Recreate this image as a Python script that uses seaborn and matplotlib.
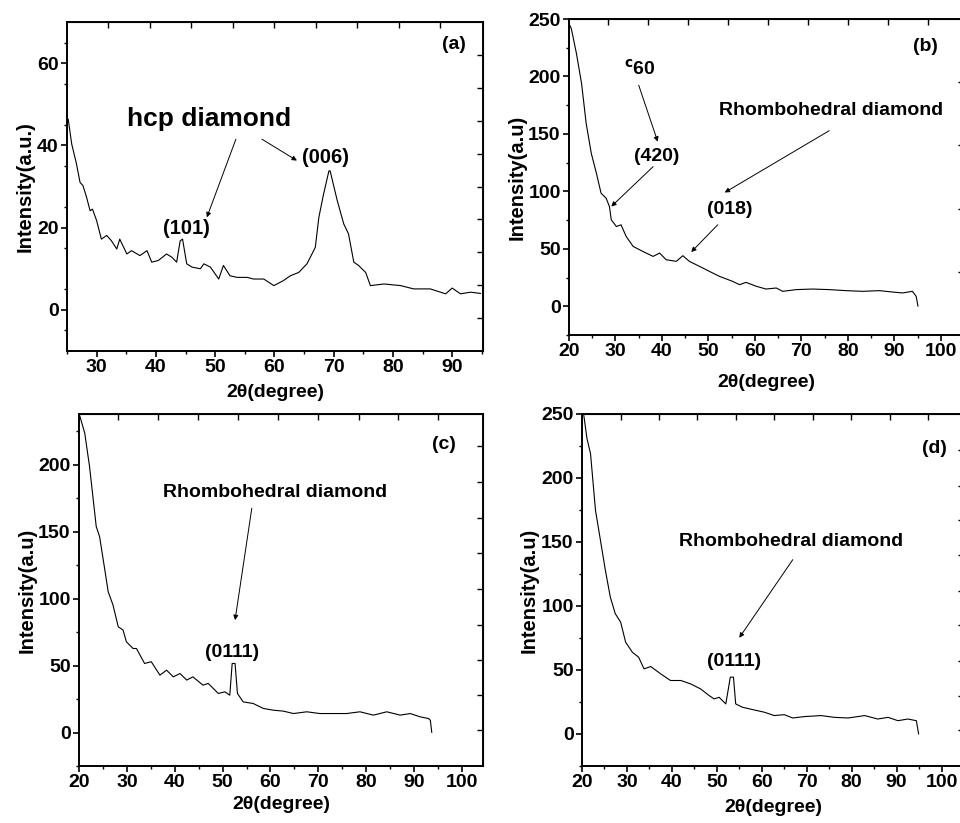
import numpy as np
import pandas as pd
import matplotlib
matplotlib.use('Agg')
import matplotlib.pyplot as plt
import seaborn as sns

sns.set_style('ticks')
plt.rcParams['font.family'] = ['Liberation Sans', 'DejaVu Sans']
plt.rcParams['font.weight'] = 'bold'
plt.rcParams['axes.labelweight'] = 'bold'
plt.rcParams['mathtext.default'] = 'bf'
for key in ['text.color', 'axes.labelcolor', 'xtick.color', 'ytick.color', 'axes.edgecolor']:
    plt.rcParams[key] = 'black'

# panel (a) XRD pattern
two_theta_a = [25.2, 25.8, 26.6, 27.2, 27.7, 28.3, 28.9, 29.3, 30.0, 30.8, 31.7, 32.5, 33.4, 33.9,
               35.1, 35.9, 37.3, 38.5, 39.3, 40.4, 41.8, 42.7, 43.5, 44.1, 44.5, 45.2, 46.1, 47.5,
               48.1, 49.2, 50.6, 51.4, 52.5, 53.7, 55.4, 56.5, 58.2, 59.9, 61.5, 62.7, 64.1, 65.5,
               66.9, 67.5, 68.3, 69.2, 69.4, 70.6, 71.7, 72.5, 73.4, 74.2, 75.4, 76.2, 78.5, 81.3,
               83.5, 86.3, 88.9, 90.0, 91.4, 93.1, 94.8]
intensity_a = [46.4, 40.3, 35.5, 31.0, 30.2, 27.4, 24.1, 24.5, 21.7, 17.2, 18.1, 16.8, 14.8, 17.2,
               13.6, 14.4, 13.2, 14.4, 11.6, 12.0, 13.6, 12.8, 11.6, 16.8, 17.2, 11.2, 10.4, 10.0,
               11.2, 10.4, 7.5, 10.8, 8.3, 7.9, 7.9, 7.5, 7.5, 5.9, 7.1, 8.3, 9.1, 11.2,
               15.2, 22.5, 28.2, 33.8, 33.8, 26.6, 20.9, 18.5, 11.6, 10.8, 9.1, 5.9, 6.3, 5.9,
               5.1, 5.1, 3.9, 5.3, 3.9, 4.3, 4.0]

# panel (b)
two_theta_b = [20.0, 20.5, 21.6, 22.7, 23.7, 24.8, 25.9, 26.9, 28.0, 28.7, 29.1, 30.2, 31.2, 32.3,
               33.8, 35.9, 38.1, 39.5, 40.9, 43.1, 44.5, 45.9, 48.1, 50.2, 52.4, 55.2, 56.7, 58.1,
               60.3, 62.4, 64.6, 66.0, 68.9, 72.4, 76.0, 79.6, 83.2, 86.8, 89.6, 91.8, 93.9, 94.7, 95.1]
intensity_b = [246, 241.6, 220, 194, 159, 133, 115.7, 98.4, 94, 86.8, 75.2, 69.4, 70.9, 60.8,
               52.1, 47.7, 43.4, 46.3, 40.5, 39.1, 44, 39.1, 34.7, 30.4, 26, 21.7, 18.8, 20.8,
               17.4, 15, 15.9, 13, 14.5, 15, 14.5, 13.6, 13, 13.6, 12.4, 11.6, 13, 8.7, 0]

# panel (c)
two_theta_c = [20.1, 21.2, 22.2, 23.6, 24.3, 25.4, 26.1, 27.1, 28.2, 29.2, 29.9, 31.3, 32.0, 33.7,
               35.1, 36.9, 38.3, 39.7, 41.1, 42.5, 43.8, 45.9, 47.0, 49.1, 50.5, 51.5, 52.0, 52.6,
               53.1, 54.3, 56.4, 58.5, 60.6, 62.7, 64.8, 67.6, 70.3, 73.1, 75.9, 78.7, 81.5, 84.3,
               87.1, 89.2, 91.3, 93.0, 93.4, 93.7]
intensity_c = [237.4, 223.7, 198.8, 153.9, 146.4, 121.4, 105.2, 95.3, 79, 76.6, 67.8, 62.8, 62.8, 51.6,
               52.9, 42.9, 46.6, 41.6, 44.1, 39.2, 41.6, 35.4, 36.7, 29.2, 30.4, 27.9, 51.6, 51.6,
               29.2, 22.9, 21.7, 18, 16.7, 16, 14.2, 15.5, 14.2, 14.2, 14.2, 15.5, 13, 15.5,
               13, 14.2, 11.7, 10.5, 9.2, 0]

# panel (d)
two_theta_d = [20.4, 21.1, 21.9, 23.0, 24.1, 25.2, 26.3, 27.4, 28.6, 29.7, 31.2, 32.6, 33.8, 35.3,
               37.5, 39.7, 42.0, 44.2, 46.4, 48.3, 49.4, 50.5, 52.0, 53.0, 53.7, 54.2, 55.7, 58.3,
               60.6, 62.8, 65.0, 66.9, 69.5, 73.2, 76.2, 79.2, 82.9, 85.8, 88.1, 90.3, 92.5, 94.4, 94.9]
intensity_d = [249, 231, 219, 174.8, 151.4, 127.9, 107, 94, 87.4, 71.8, 63.9, 60, 50.9, 52.7,
               47, 41.8, 41.8, 39.1, 35.2, 30, 27.4, 28.7, 23.5, 44.4, 44.4, 23.5, 20.9, 18.8,
               17, 14.4, 15.1, 12.5, 13.6, 14.4, 13, 12.5, 14.4, 11.7, 13, 10.4, 11.7, 10.4, 0]

W, H = 960, 823
fig = plt.figure(figsize=(W / 100, H / 100), dpi=100)

def add_panel(left, right, top, bottom):
    return fig.add_axes([left / W, 1 - bottom / H, (right - left) / W, (bottom - top) / H])

panels = [
    dict(rect=(67, 483, 22, 351), x=two_theta_a, y=intensity_a, xlim=(25, 95.2), ylim=(-10, 70),
         xt=10, yt=20, ylabel='Intensity(a.u.)', xpad=6, ypad=2,
         top=[32, 39, 46, 53, 60, 67, 74, 81, 88], right=[62, 54, 46, 38, 30, 22, 14, 6, -2]),
    dict(rect=(569, 964, 19, 335), x=two_theta_b, y=intensity_b, xlim=(20, 105), ylim=(-25, 250),
         xt=10, yt=50, ylabel='Intensity(a.u)', xpad=10, ypad=1,
         top=[28.4, 37, 45.6, 54.2, 62.8, 71.4, 80, 88.6, 97.2], right=[195, 140, 85, 30]),
    dict(rect=(79, 483, 414, 766), x=two_theta_c, y=intensity_c, xlim=(20, 104.4), ylim=(-25, 238),
         xt=10, yt=50, ylabel='Intensity(a.u)', xpad=4, ypad=1,
         top=[28.2, 36.5, 44.9, 53.3, 61.6, 70, 78.4, 86.7, 95.1],
         right=[214, 187, 160, 134, 107, 80, 54, 28, 2]),
    dict(rect=(582, 964, 414, 766), x=two_theta_d, y=intensity_d, xlim=(20, 105), ylim=(-25, 250),
         xt=10, yt=50, ylabel='Intensity(a.u)', xpad=6, ypad=2,
         top=[28.6, 37.1, 45.7, 54.2, 62.8, 71.4, 79.9, 88.5, 97],
         right=[222, 194, 167, 140, 112, 85, 57, 30, 3]),
]

axes = []
for p in panels:
    ax = add_panel(*p['rect'])
    df = pd.DataFrame({'2theta': p['x'], 'I': p['y']})
    sns.lineplot(data=df, x='2theta', y='I', ax=ax, color='black', lw=0.8, sort=False)
    ax.set_xticks(np.arange(20, 101, p['xt']))
    ax.set_xticks(np.arange(20, 106, p['xt'] / 2), minor=True)
    ax.set_yticks(np.arange(0, 251, p['yt']))
    ax.set_yticks(np.arange(-25, 251, p['yt'] / 2), minor=True)
    ax.set_xlim(*p['xlim'])
    ax.set_ylim(*p['ylim'])
    ax.tick_params(which='major', direction='out', length=4, width=1.2, labelsize=14)
    ax.tick_params(axis='x', which='major', pad=1.5)
    ax.tick_params(axis='y', which='major', pad=2)
    ax.tick_params(which='minor', direction='out', length=2.5, width=1)
    for lab in ax.get_xticklabels() + ax.get_yticklabels():
        lab.set_fontweight('bold')
    for s in ax.spines.values():
        s.set_linewidth(1.4)
    ax.set_xlabel('2θ(degree)', fontsize=14, fontweight='bold', labelpad=p['xpad'])
    ax.set_ylabel(p['ylabel'], fontsize=14.5, fontweight='bold', labelpad=p['ypad'])
    sx = ax.secondary_xaxis('top')
    sx.set_xticks(p['top'])
    sx.tick_params(direction='in', length=4, width=1, labeltop=False)
    sx.set_xticklabels([])
    sy = ax.secondary_yaxis('right')
    sy.set_yticks(p['right'])
    sy.tick_params(direction='in', length=4, width=1, labelright=False)
    sy.set_yticklabels([])
    axes.append(ax)

arrow = dict(arrowstyle='-|>', lw=0.7, color='black', mutation_scale=7, shrinkA=0, shrinkB=0)
txt = dict(ha='center', va='center', fontweight='bold')

ax = axes[0]
ax.text(48.9, 46.4, 'hcp diamond', fontsize=19, **txt)
ax.annotate('', xy=(48.6, 22.5), xytext=(53.5, 41.5), arrowprops=arrow)
ax.annotate('', xy=(63.8, 36.3), xytext=(57.9, 41.5), arrowprops=arrow)
ax.text(45.1, 19.7, '(101)', fontsize=14.5, **txt)
ax.text(68.7, 37.1, '(006)', fontsize=14.5, **txt)
ax.text(90.3, 64.6, '(a)', fontsize=14, **txt)

ax = axes[1]
ax.text(35.2, 206.9, r'$^{\mathbf{c}}$60', fontsize=14, **txt)
ax.annotate('', xy=(39.1, 143.2), xytext=(35.0, 192.4), arrowprops=arrow)
ax.text(38.8, 130.2, '(420)', fontsize=14, **txt)
ax.annotate('', xy=(29.1, 86.8), xytext=(38.1, 121.5), arrowprops=arrow)
ax.text(76.4, 170.7, 'Rhombohedral diamond', fontsize=14, **txt)
ax.annotate('', xy=(53.5, 99), xytext=(76.0, 152.8), arrowprops=arrow)
ax.text(54.5, 84.5, '(018)', fontsize=14, **txt)
ax.annotate('', xy=(46.3, 47.2), xytext=(52.0, 70.9), arrowprops=arrow)
ax.text(96.8, 225.7, '(b)', fontsize=14, **txt)

ax = axes[2]
ax.text(60.9, 179.3, 'Rhombohedral diamond', fontsize=14, **txt)
ax.annotate('', xy=(52.6, 84), xytext=(56.1, 167.6), arrowprops=arrow)
ax.text(51.9, 59.6, '(0111)', fontsize=14, **txt)
ax.text(96.2, 215, '(c)', fontsize=14, **txt)

ax = axes[3]
ax.text(66.5, 150, 'Rhombohedral diamond', fontsize=14, **txt)
ax.annotate('', xy=(55.0, 75.2), xytext=(66.9, 136.2), arrowprops=arrow)
ax.text(53.9, 56.6, '(0111)', fontsize=14, **txt)
ax.text(98.5, 223, '(d)', fontsize=14, **txt)

plt.savefig('out.png', dpi=100)
